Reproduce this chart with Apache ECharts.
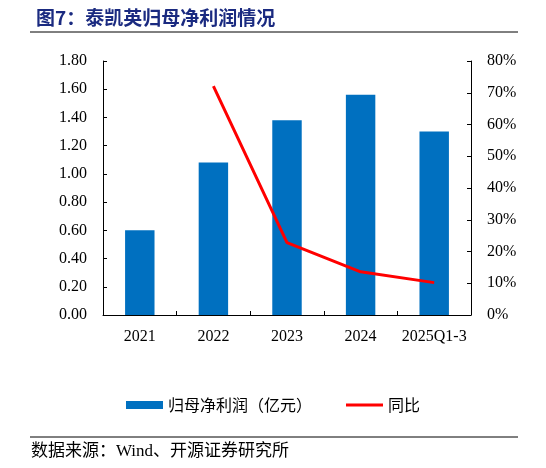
<!DOCTYPE html>
<html>
<head>
<meta charset="utf-8">
<script src="https://cdn.jsdelivr.net/npm/echarts@6/dist/echarts.min.js"></script>
<style>
html,body{margin:0;padding:0;background:#fff;}
#main{width:546px;height:468px;}
</style>
</head>
<body>
<div id="main"></div>
<script>
// 数据
var years = ['2021', '2022', '2023', '2024', '2025Q1-3'];
var netProfit = [0.60, 1.08, 1.38, 1.56, 1.30];   // 归母净利润（亿元）
var yoy = [null, 72.1, 22.8, 13.6, 10.2];          // 同比 %
var leftTicks = [0, 1.8, 0.2];
var rightTicks = [0, 80, 10];

var serif = '"Liberation Serif", "Times New Roman", serif';
var cjk = '"Noto Sans CJK SC", sans-serif';

var myChart = echarts.init(document.getElementById('main'));

var option = {
    animation: false,
    title: {
        text: '图7：泰凯英归母净利润情况',
        left: 31, top: 3,
        textStyle: {fontFamily: cjk, fontSize: 19, fontWeight: 'bold', color: '#1a2a80'}
    },
    graphic: [
        {type: 'line', shape: {x1: 30, y1: 32, x2: 518, y2: 32}, style: {stroke: '#000', lineWidth: 1}},
        {type: 'line', shape: {x1: 30, y1: 437, x2: 518, y2: 437}, style: {stroke: '#000', lineWidth: 1}},
        {type: 'text', left: 31, top: 443,
         style: {text: '数据来源：Wind、开源证券研究所', font: '17px "Liberation Serif", "Noto Sans CJK SC"', fill: '#000'}}
    ],
    legend: {
        top: 392, left: 'center',
        itemGap: 34, itemWidth: 37, itemHeight: 8,
        textStyle: {fontFamily: cjk, fontSize: 16, color: '#000'},
        data: [
            {name: '归母净利润（亿元）', icon: 'rect'},
            {name: '同比', icon: 'path://M0,0h37v3h-37z'}
        ]
    },
    grid: {left: 103, right: 75, top: 61, bottom: 153},
    xAxis: {
        type: 'category',
        data: years,
        axisLine: {lineStyle: {color: '#000', width: 1}},
        axisTick: {show: true, inside: true, length: 4, alignWithLabel: false, lineStyle: {color: '#000'}},
        axisLabel: {interval: 0, fontFamily: serif, fontSize: 16, color: '#000', margin: 14}
    },
    yAxis: [
        {
            type: 'value', min: leftTicks[0], max: leftTicks[1], interval: leftTicks[2],
            axisLine: {show: true, lineStyle: {color: '#000'}},
            axisTick: {show: true, inside: true, length: 4, lineStyle: {color: '#000'}},
            splitLine: {show: false},
            axisLabel: {fontFamily: serif, fontSize: 16, color: '#000', margin: 16,
                formatter: function (v) { return v.toFixed(2); }}
        },
        {
            type: 'value', min: rightTicks[0], max: rightTicks[1], interval: rightTicks[2],
            axisLine: {show: true, lineStyle: {color: '#000'}},
            axisTick: {show: true, inside: true, length: 4, lineStyle: {color: '#000'}},
            splitLine: {show: false},
            axisLabel: {fontFamily: serif, fontSize: 16, color: '#000', margin: 16,
                formatter: '{value}%'}
        }
    ],
    series: [
        {
            name: '归母净利润（亿元）',
            type: 'bar',
            data: netProfit,
            barWidth: '40%',
            itemStyle: {color: '#0070c0'}
        },
        {
            name: '同比',
            type: 'line',
            yAxisIndex: 1,
            data: yoy,
            symbol: 'none',
            lineStyle: {color: '#ff0000', width: 3},
            itemStyle: {color: '#ff0000'}
        }
    ]
};
myChart.setOption(option);
</script>
</body>
</html>
